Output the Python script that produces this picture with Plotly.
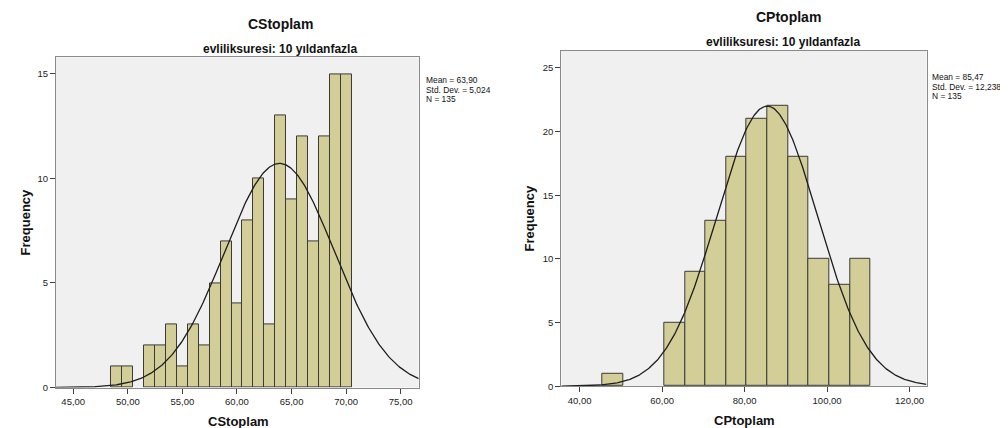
import numpy as np
import plotly.graph_objects as go

# ---------------- data ----------------
cs_centers = [49, 50, 51, 52, 53, 54, 55, 56, 57, 58, 59, 60, 61, 62, 63, 64, 65, 66, 67, 68, 69, 70]
cs_counts = [1, 1, 0, 2, 2, 3, 1, 3, 2, 5, 7, 4, 8, 10, 3, 13, 9, 12, 7, 12, 15, 15]
cs_binwidth = 1
cs_mean, cs_sd, cs_n = 63.90, 5.024, 135

cp_centers = [48, 53, 58, 63, 68, 73, 78, 83, 88, 93, 98, 103, 108]
cp_counts = [1, 0, 0, 5, 9, 13, 18, 21, 22, 18, 10, 8, 10]
cp_binwidth = 5
cp_mean, cp_sd, cp_n = 85.47, 12.238, 135

cs_xticks = [45, 50, 55, 60, 65, 70, 75]
cs_xticktext = ["45,00", "50,00", "55,00", "60,00", "65,00", "70,00", "75,00"]
cs_yticks = [0, 5, 10, 15]
cp_xticks = [40, 60, 80, 100, 120]
cp_xticktext = ["40,00", "60,00", "80,00", "100,00", "120,00"]
cp_yticks = [0, 5, 10, 15, 20, 25]

cs_stats = ["Mean = 63,90", "Std. Dev. = 5,024", "N = 135"]
cp_stats = ["Mean = 85,47", "Std. Dev. = 12,238", "N = 135"]

# ---------------- geometry (pixels) ----------------
W, H = 1008, 428
def px(x):
    return x / W
def py(y):
    return 1 - y / H

cs_xrange = [43.42, 76.65]
cs_yrange = [0, 15.79]
cp_xrange = [35.54, 124.1]
cp_yrange = [0, 26.35]

BAR_FILL = "#D3CE97"
BAR_LINE = "#3A3A3A"
FRAME = "#8A8A8A"
FONT = "Liberation Sans, Arial, sans-serif"

fig = go.Figure()

def add_hist(centers, counts, width, mean, sd, n, xr, xa, ya):
    cx = [c for c, k in zip(centers, counts) if k > 0]
    ck = [k for k in counts if k > 0]
    fig.add_trace(go.Bar(
        x=cx, y=ck, width=width, xaxis=xa, yaxis=ya,
        marker=dict(color=BAR_FILL, line=dict(color=BAR_LINE, width=1)),
        hoverinfo="skip", showlegend=False))
    xs = np.linspace(xr[0], xr[1], 400)
    ys = n * width * np.exp(-0.5 * ((xs - mean) / sd) ** 2) / (sd * np.sqrt(2 * np.pi))
    fig.add_trace(go.Scatter(
        x=xs, y=ys, mode="lines", xaxis=xa, yaxis=ya,
        line=dict(color="#1E1E1E", width=1.3),
        hoverinfo="skip", showlegend=False))

add_hist(cs_centers, cs_counts, cs_binwidth, cs_mean, cs_sd, cs_n, cs_xrange, "x", "y")
add_hist(cp_centers, cp_counts, cp_binwidth, cp_mean, cp_sd, cp_n, cp_xrange, "x2", "y2")

axis_common = dict(
    showgrid=False, zeroline=False, showline=True, mirror=True,
    linecolor=FRAME, linewidth=1.2, ticks="outside", ticklen=5,
    tickcolor="#404040", tickwidth=1,
    tickfont=dict(family=FONT, size=9.5, color="#222222"),
)

fig.update_layout(
    width=W, height=H,
    margin=dict(l=0, r=0, t=0, b=0),
    paper_bgcolor="white",
    plot_bgcolor="#F0F0F0",
    bargap=0,
    xaxis=dict(domain=[px(48), px(410.7)], range=cs_xrange, anchor="y",
               tickmode="array", tickvals=cs_xticks, ticktext=cs_xticktext, **axis_common),
    yaxis=dict(domain=[py(384), py(50)], range=cs_yrange, anchor="x",
               tickmode="array", tickvals=cs_yticks, **axis_common),
    xaxis2=dict(domain=[px(553.3), px(918.5)], range=cp_xrange, anchor="y2",
                tickmode="array", tickvals=cp_xticks, ticktext=cp_xticktext, **axis_common),
    yaxis2=dict(domain=[py(382.7), py(43.3)], range=cp_yrange, anchor="x2",
                tickmode="array", tickvals=cp_yticks, **axis_common),
)

ann = []
def text(x, y, s, size, bold=False, xanchor="center", angle=0):
    ann.append(dict(
        x=px(x), y=py(y), xref="paper", yref="paper", showarrow=False,
        text=("<b>%s</b>" % s) if bold else s, textangle=angle,
        xanchor=xanchor, yanchor="middle",
        font=dict(family=FONT, size=size, color="#111111")))

# left chart texts
text(272, 16, "CStoplam", 14, bold=True)
text(272, 41, "evliliksuresi: 10 yıldanfazla", 12, bold=True)
text(230, 418, "CStoplam", 13, bold=True)
text(17, 217, "Frequency", 13, bold=True, angle=-90)
for i, s in enumerate(cs_stats):
    text(416, 73 + 9.5 * i, s, 8.4, xanchor="left")

# right chart texts
text(780, 9, "CPtoplam", 14, bold=True)
text(775, 34, "evliliksuresi: 10 yıldanfazla", 12, bold=True)
text(736, 417, "CPtoplam", 13, bold=True)
text(522, 213, "Frequency", 13, bold=True, angle=-90)
for i, s in enumerate(cp_stats):
    text(922, 70 + 9.5 * i, s, 8.4, xanchor="left")

fig.update_layout(annotations=ann)

fig.write_html("out.html")
